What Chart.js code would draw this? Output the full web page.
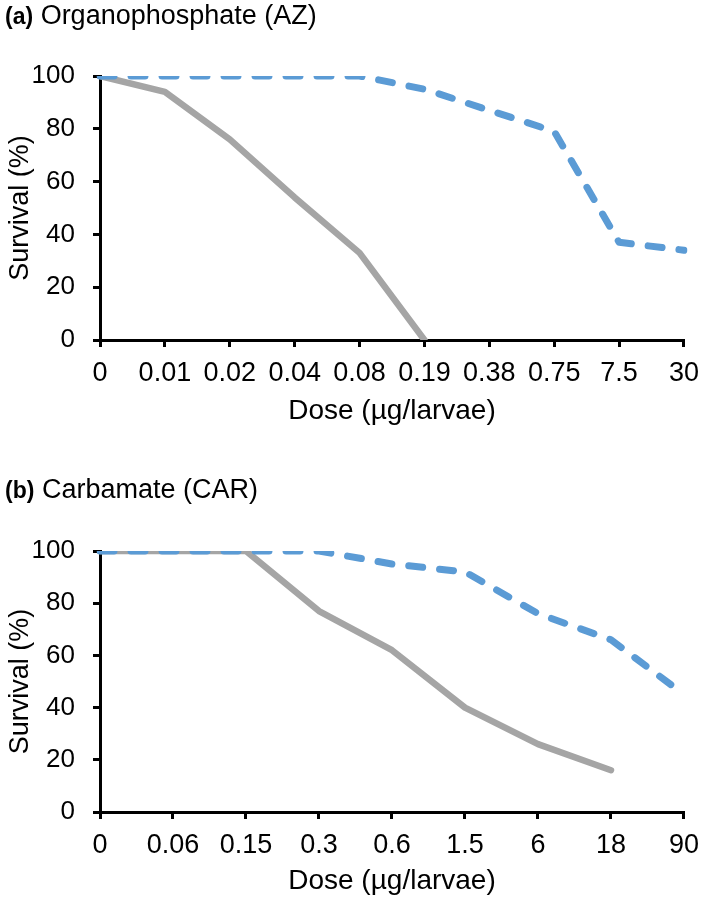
<!DOCTYPE html>
<html>
<head>
<meta charset="utf-8">
<script src="https://cdn.jsdelivr.net/npm/chart.js@4/dist/chart.umd.min.js"></script>
<style>
  html, body { margin: 0; padding: 0; background: #fff; }
  body { width: 709px; height: 904px; position: relative; overflow: hidden; font-family: 'Liberation Sans', Arial, sans-serif; }
  .panel { position: absolute; left: 0; width: 709px; height: 452px; }
  .ttl { position: absolute; left: 5px; font-size: 27px; line-height: 27px; color: #000; white-space: nowrap; }
  .ttl b { font-size: 23px; }
</style>
</head>
<body>
<div class="panel" style="top:0px"><canvas id="cA" width="709" height="452"></canvas></div>
<div class="panel" style="top:452px"><canvas id="cB" width="709" height="452"></canvas></div>
<div class="ttl" style="top:2px"><b>(a)</b> Organophosphate (AZ)</div>
<div class="ttl" style="top:476px"><b>(b)</b> Carbamate (CAR)</div>
<script>
// ---- data ----
const dosesA = ['0', '0.01', '0.02', '0.04', '0.08', '0.19', '0.38', '0.75', '7.5', '30'];
const grayA  = [100, 94, 76, 54, 33, 0, null, null, null, null];
const blueA  = [100, 100, 100, 100, 100, 95, 87, 79, 37, 34];

const dosesB = ['0', '0.06', '0.15', '0.3', '0.6', '1.5', '6', '18', '90'];
const grayB  = [100, 100, 100, 77, 62, 40, 26, 16, null];
const blueB  = [100, 100, 100, 100, 95, 92, 76, 66, 45];

const yTicks = [0, 20, 40, 60, 80, 100];
const xTitle = 'Dose (µg/larvae)';
const yTitle = 'Survival (%)';

// ---- styling ----
const FONT = "'Liberation Sans', Arial, sans-serif";
const BLUE = '#5B9BD5';
const GRAY = '#A5A5A5';

function makeChart(id, labels, blue, gray, padTop, padBottom, xHeight) {
  return new Chart(document.getElementById(id), {
    type: 'line',
    data: {
      labels: labels,
      datasets: [
        { label: 'blue', data: blue, borderColor: BLUE, borderWidth: 7, borderDash: [14, 17],
          borderCapStyle: 'round', borderJoinStyle: 'round', pointRadius: 0, tension: 0, fill: false, spanGaps: false },
        { label: 'gray', data: gray, borderColor: GRAY, borderWidth: 6.5,
          borderCapStyle: 'round', borderJoinStyle: 'round', pointRadius: 0, tension: 0, fill: false, spanGaps: false }
      ]
    },
    options: {
      responsive: false,
      devicePixelRatio: 1,
      animation: false,
      layout: { padding: { top: padTop, right: 16, bottom: padBottom, left: 0 } },
      plugins: { legend: { display: false }, tooltip: { enabled: false }, title: { display: false } },
      scales: {
        x: {
          type: 'category',
          offset: false,
          grid: { display: true, drawOnChartArea: false, drawTicks: true, tickLength: 7, color: '#000', lineWidth: 3 },
          border: { display: true, color: '#000', width: 3 },
          ticks: { color: '#000', font: { family: FONT, size: 27 }, padding: 10, maxRotation: 0, autoSkip: false },
          title: { display: true, text: xTitle, color: '#000', font: { family: FONT, size: 28 }, padding: { top: 0, bottom: 0 } },
          afterFit: (s) => { s.height = xHeight; }
        },
        y: {
          min: 0, max: 100,
          afterBuildTicks: (s) => { s.ticks = yTicks.map(v => ({ value: v })); },
          grid: { display: true, drawOnChartArea: false, drawTicks: true, tickLength: 7, color: '#000', lineWidth: 3 },
          border: { display: true, color: '#000', width: 3 },
          ticks: { color: '#000', font: { family: FONT, size: 26 }, padding: 18 },
          title: { display: true, text: yTitle, color: '#000', font: { family: FONT, size: 27 }, padding: { top: 4, bottom: 0 } },
          afterFit: (s) => { s.width = 100; }
        }
      }
    }
  });
}

makeChart('cA', dosesA, blueA, grayA, 76, 24, 88);
makeChart('cB', dosesB, blueB, grayB, 99, 6, 86);
</script>
</body>
</html>
